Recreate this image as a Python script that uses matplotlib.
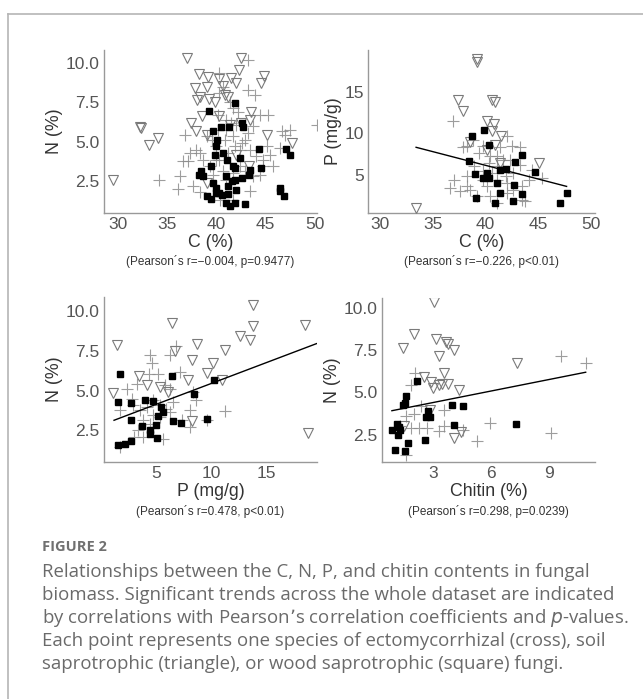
import numpy as np
import matplotlib.pyplot as plt
from matplotlib.lines import Line2D

# ---- C vs N (top left) ----
cn_cross_c = [43.15, 40.3, 40.65, 40.3, 43.2, 43.9, 41.35, 41.7, 42.2, 45.25, 44.4, 40.15, 50.2, 47.5,
              46.6, 47.0, 46.45, 45.75, 44.4, 44.75, 44.05, 43.4, 42.4, 41.7, 41.0, 40.15, 39.5, 39.0,
              37.95, 38.3, 37.3, 36.8, 36.6, 37.1, 36.3, 36.1, 34.2, 37.6, 38.3, 40.35, 41.7, 43.4,
              41.0, 39.65, 39.3, 40.3, 41.2, 41.85, 42.55, 42.9, 43.2, 43.7, 42.4, 42.9, 43.7, 41.7,
              40.65, 39.95, 40.85, 41.0, 41.5, 42.0, 39.95, 38.65, 45.1, 45.4, 44.75]
cn_cross_n = [10.17, 9.33, 8.49, 8.07, 8.28, 7.96, 7.54, 7.12, 6.91, 6.7, 6.7, 6.7, 6.07, 5.76,
              5.71, 5.44, 4.6, 3.45, 2.92, 3.45, 4.08, 4.5, 4.5, 5.34, 5.76, 5.76, 5.13, 5.34,
              4.5, 4.29, 4.29, 5.44, 3.76, 3.76, 2.82, 2.02, 2.6, 2.18, 1.81, 1.34, 1.34, 1.87,
              2.6, 2.92, 3.45, 3.87, 4.29, 4.71, 4.92, 5.13, 5.55, 5.97, 3.45, 3.13, 2.82, 3.03,
              3.13, 3.87, 5.13, 6.39, 6.18, 6.07, 4.71, 3.87, 4.71, 4.18, 3.87]
cn_tri_c = [37.05, 42.5, 42.3, 38.2, 39.15, 40.3, 41.5, 44.85, 44.5, 37.8, 39.0, 40.7, 42.0, 38.3,
            38.05, 39.25, 39.8, 40.85, 41.2, 43.55, 43.4, 37.45, 38.5, 40.3, 42.5, 32.2, 32.3, 34.1,
            33.15, 37.95, 39.0, 45.15, 47.7, 29.5, 43.3, 39.0, 41.35, 42.0]
cn_tri_n = [10.27, 10.27, 9.54, 9.29, 9.12, 8.95, 9.01, 9.16, 8.74, 8.38, 8.49, 8.53, 8.7, 7.86,
            7.65, 7.69, 7.54, 7.96, 7.86, 6.91, 6.39, 6.18, 6.6, 6.6, 6.18, 5.92, 5.86, 5.23,
            4.81, 5.65, 5.44, 5.44, 4.92, 2.6, 3.45, 2.39, 6.07, 4.18]
cn_sq_c = [39.25, 41.85, 39.65, 40.5, 41.3, 42.55, 42.65, 40.1, 39.95, 39.85, 40.7, 41.1, 41.7, 41.85,
           42.4, 44.35, 47.1, 47.5, 44.5, 43.4, 43.3, 42.55, 38.4, 38.65, 39.45, 38.2, 39.65, 39.95,
           39.95, 40.3, 41.0, 41.15, 41.6, 41.85, 42.0, 41.15, 39.0, 39.45, 40.95, 41.4, 41.9, 42.9,
           46.45, 46.45, 46.9, 40.55]
cn_sq_n = [6.97, 7.44, 5.65, 5.92, 5.92, 6.18, 5.92, 5.13, 4.75, 4.18, 4.29, 3.87, 3.45, 3.34,
           3.97, 4.56, 4.54, 4.16, 3.34, 3.24, 2.92, 2.71, 3.13, 2.82, 3.49, 2.92, 2.39, 2.08,
           1.76, 1.76, 2.82, 2.18, 2.5, 2.6, 1.97, 1.72, 1.6, 1.39, 1.13, 0.92, 1.13, 1.07,
           2.08, 1.87, 1.55, 1.66]

# ---- C vs P (top right) ----
cp_cross_c = [36.9, 37.9, 38.2, 38.8, 39.35, 39.8, 40.4, 41.4, 42.0, 42.5, 43.3, 41.1, 41.7, 42.3,
              43.3, 42.65, 41.9, 41.1, 40.6, 39.8, 38.9, 38.2, 37.0, 36.6, 37.6, 38.5, 39.2, 40.1,
              40.4, 41.1, 42.0, 42.65, 43.45, 44.1, 44.4, 45.35, 43.45, 43.75, 42.0, 41.1, 38.2,
              40.3, 39.8]
cp_cross_p = [11.5, 8.3, 8.5, 9.2, 7.6, 8.4, 7.2, 8.3, 9.6, 8.4, 8.3, 7.2, 6.8, 6.8,
              6.2, 5.2, 4.8, 4.4, 5.2, 5.4, 6.0, 4.8, 4.4, 3.4, 3.0, 3.2, 2.4, 3.6,
              2.4, 1.6, 2.8, 3.2, 3.6, 4.4, 5.6, 4.6, 2.0, 1.8, 4.0, 6.0, 3.6,
              6.4, 4.4]
cp_tri_c = [39.2, 39.15, 37.35, 37.85, 40.6, 40.9, 40.1, 40.8, 40.6, 41.45, 38.5, 40.1, 40.9, 45.1,
            33.4, 41.4]
cp_tri_p = [18.9, 18.6, 14.0, 12.7, 14.0, 13.7, 11.5, 11.1, 10.2, 9.7, 8.9, 8.0, 8.6, 6.4,
            1.0, 6.4]
cp_sq_c = [38.75, 39.9, 40.3, 38.45, 43.45, 39.0, 39.8, 40.1, 40.3, 41.4, 41.95, 42.8, 44.7, 41.1,
           42.75, 41.4, 43.45, 39.1, 40.9, 42.6, 47.1, 47.7]
cp_sq_p = [9.7, 10.4, 8.6, 6.7, 7.4, 5.1, 4.6, 5.2, 4.6, 5.6, 5.7, 6.5, 5.3, 4.0,
           3.8, 2.8, 2.7, 2.2, 1.6, 1.8, 1.6, 2.8]
cp_fit_c = [33.4, 47.7]
cp_fit_p = [8.3, 3.6]

# ---- P vs N (bottom left) ----
pn_cross_p = [4.4, 6.75, 6.2, 4.55, 4.3, 5.15, 7.1, 3.2, 2.3, 5.75, 6.2, 1.65, 2.9, 3.5,
              4.1, 4.7, 5.3, 5.9, 6.2, 6.5, 8.0, 8.6, 8.3, 11.2, 8.0, 5.3, 4.4, 3.8,
              3.3, 3.0, 1.65, 3.8, 5.6, 4.7, 2.75, 9.55, 7.3]
pn_cross_n = [7.23, 7.79, 7.23, 6.74, 6.07, 6.07, 6.18, 5.44, 5.13, 5.34, 5.13, 3.76, 4.08, 3.76,
              3.97, 4.39, 4.08, 3.87, 3.66, 4.29, 3.76, 4.39, 4.92, 3.7, 2.71, 3.34, 2.92, 3.13,
              2.5, 2.08, 1.45, 2.08, 1.97, 3.45, 4.5, 3.13, 3.13]
pn_tri_p = [13.75, 6.4, 13.75, 18.5, 1.4, 8.7, 11.2, 12.6, 13.5, 8.2, 10.1, 9.55, 10.9, 3.4,
            4.1, 5.3, 6.05, 7.9, 1.05, 8.2, 18.7, 6.65]
pn_tri_n = [10.38, 9.24, 9.05, 9.12, 7.86, 7.96, 7.58, 8.42, 8.17, 6.91, 6.76, 6.13, 5.65, 5.92,
            5.34, 5.23, 4.92, 5.65, 4.85, 3.09, 2.33, 7.5]
pn_sq_p = [1.65, 6.4, 10.2, 8.4, 1.55, 2.7, 3.95, 4.65, 5.45, 5.55, 5.15, 2.65, 3.65, 4.45,
           4.95, 4.4, 5.0, 6.5, 7.2, 9.55, 2.7, 2.1, 1.55]
pn_sq_n = [6.07, 5.94, 5.69, 4.81, 4.31, 4.22, 4.39, 4.33, 3.97, 3.66, 3.4, 3.17, 2.75, 2.54,
           2.84, 2.25, 2.04, 3.09, 2.98, 3.24, 1.8, 1.62, 1.6]
pn_fit_p = [1.15, 19.5]
pn_fit_n = [3.13, 7.96]

# ---- Chitin vs N (bottom right) ----
kn_cross_k = [9.59, 10.87, 2.09, 1.89, 2.4, 2.04, 1.63, 1.87, 2.26, 2.69, 3.29, 3.58, 3.58, 4.54,
              5.26, 5.95, 9.07, 1.61, 1.32]
kn_cross_n = [7.16, 6.75, 6.14, 5.44, 4.22, 3.71, 3.61, 2.9, 2.9, 2.9, 2.7, 3.0, 3.98, 2.8,
              2.1, 3.21, 2.6, 1.29, 3.0]
kn_tri_k = [3.07, 2.04, 1.46, 3.17, 3.69, 3.77, 4.1, 3.29, 3.58, 2.52, 2.91, 3.34, 3.46, 3.8,
            4.35, 3.03, 7.32, 2.86, 1.5, 4.1, 4.46]
kn_tri_n = [10.39, 8.47, 7.62, 8.17, 7.97, 7.86, 7.5, 7.16, 6.14, 5.9, 5.64, 5.44, 5.48, 5.48,
            5.17, 5.27, 6.75, 3.98, 3.0, 2.3, 2.64]
kn_sq_k = [2.19, 1.63, 1.46, 1.55, 2.74, 2.64, 2.83, 3.98, 4.53, 4.11, 7.27, 1.15, 1.23, 0.89,
           1.32, 1.18, 2.57, 1.71, 1.06, 1.58]
kn_sq_n = [5.7, 4.79, 4.26, 4.38, 3.92, 3.57, 3.55, 4.26, 4.18, 3.05, 3.11, 3.15, 2.97, 2.8,
           2.8, 2.46, 2.2, 1.99, 1.59, 1.55]
kn_fit_k = [0.89, 10.87]
kn_fit_n = [3.92, 6.2]

W, H = 643, 699
fig = plt.figure(figsize=(W / 100, H / 100), dpi=100)

tick_col = '#555555'
lab_col = '#333333'
spine_col = '#999999'


def px_axes(x0, y0, x1, y1):
    # pixel box (top-left origin) -> figure axes
    return fig.add_axes([x0 / W, 1 - y1 / H, (x1 - x0) / W, (y1 - y0) / H])


def panel(ax, cx, cy, tx, ty, sx, sy, fit, xlim, ylim, xticks, yticks, xlabel, ylabel, note):
    ax.plot(cx, cy, '+', color='#8c8c8c', ms=9, mew=0.8, alpha=0.85, zorder=2)
    ax.plot(tx, ty, 'v', mfc='none', mec='#7a7a7a', ms=7, mew=0.8, zorder=3)
    ax.plot(sx, sy, 's', color='black', ms=5, zorder=4)
    if fit is not None:
        ax.plot(fit[0], fit[1], '-', color='black', lw=1.0, zorder=5)
    ax.set_xlim(xlim)
    ax.set_ylim(ylim)
    ax.set_xticks(xticks)
    ax.set_yticks(yticks)
    if isinstance(yticks[0], float):
        ax.set_yticklabels([f'{v:.1f}' for v in yticks])
    ax.tick_params(length=0, labelsize=12.5, labelcolor=tick_col, pad=3)
    for s in ['top', 'right']:
        ax.spines[s].set_visible(False)
    for s in ['left', 'bottom']:
        ax.spines[s].set_color(spine_col)
        ax.spines[s].set_linewidth(1.0)
    ax.set_xlabel(xlabel, fontsize=12.8, color=lab_col, labelpad=1)
    ax.set_ylabel(ylabel, fontsize=12.8, color=lab_col, labelpad=2)
    ax.text(0.5, -0.30, note, transform=ax.transAxes, ha='center', va='center',
            fontsize=8.5, color=lab_col)


plt.rcParams['font.family'] = ['Liberation Sans', 'DejaVu Sans']

ax1 = px_axes(104, 50, 317, 213)
panel(ax1, cn_cross_c, cn_cross_n, cn_tri_c, cn_tri_n, cn_sq_c, cn_sq_n, None,
      (28.58, 50.2), (0.5, 10.8), [30, 35, 40, 45, 50], [2.5, 5.0, 7.5, 10.0],
      'C (%)', 'N (%)', '(Pearson\u00b4s r=\u22120.004, p=0.9477)')

ax2 = px_axes(368, 50, 595, 213)
panel(ax2, cp_cross_c, cp_cross_p, cp_tri_c, cp_tri_p, cp_sq_c, cp_sq_p, (cp_fit_c, cp_fit_p),
      (28.83, 50.4), (0.4, 20.0), [30, 35, 40, 45, 50], [5, 10, 15],
      'C (%)', 'P (mg/g)', '(Pearson\u00b4s r=\u22120.226, p<0.01)')

ax3 = px_axes(104, 297, 317, 462)
panel(ax3, pn_cross_p, pn_cross_n, pn_tri_p, pn_tri_n, pn_sq_p, pn_sq_n, (pn_fit_p, pn_fit_n),
      (0.24, 19.55), (0.5, 10.9), [5, 10, 15], [2.5, 5.0, 7.5, 10.0],
      'P (mg/g)', 'N (%)', '(Pearson\u00b4s r=0.478, p<0.01)')

ax4 = px_axes(382, 298, 595, 462)
panel(ax4, kn_cross_k, kn_cross_n, kn_tri_k, kn_tri_n, kn_sq_k, kn_sq_n, (kn_fit_k, kn_fit_n),
      (0.38, 11.35), (0.88, 10.6), [3, 6, 9], [2.5, 5.0, 7.5, 10.0],
      'Chitin (%)', 'N (%)', '(Pearson\u00b4s r=0.298, p=0.0239)')

### Frame lines (top and left only)
fig.add_artist(Line2D([8 / W, 1], [1 - 14 / H, 1 - 14 / H], color='#b5b5b5', lw=1.2))
fig.add_artist(Line2D([8 / W, 8 / W], [0, 1 - 14 / H], color='#b5b5b5', lw=1.2))

### Caption
cap_col = '#6a6a6a'
fig.text(42 / W, 1 - 547 / H, 'FIGURE 2', fontsize=10.5, fontweight='bold', color='#707070',
         family='Open Sans', va='center')
lines = [
    'Relationships between the C, N, P, and chitin contents in fungal',
    'biomass. Significant trends across the whole dataset are indicated',
    'by correlations with Pearson\u2019s correlation coefficients and $p$-values.',
    'Each point represents one species of ectomycorrhizal (cross), soil',
    'saprotrophic (triangle), or wood saprotrophic (square) fungi.',
]
for i, t in enumerate(lines):
    fig.text(42 / W, 1 - (572 + 23 * i) / H, t, fontsize=13.4, color=cap_col,
             family='Open Sans', va='center')

fig.savefig('out.png', dpi=100)
